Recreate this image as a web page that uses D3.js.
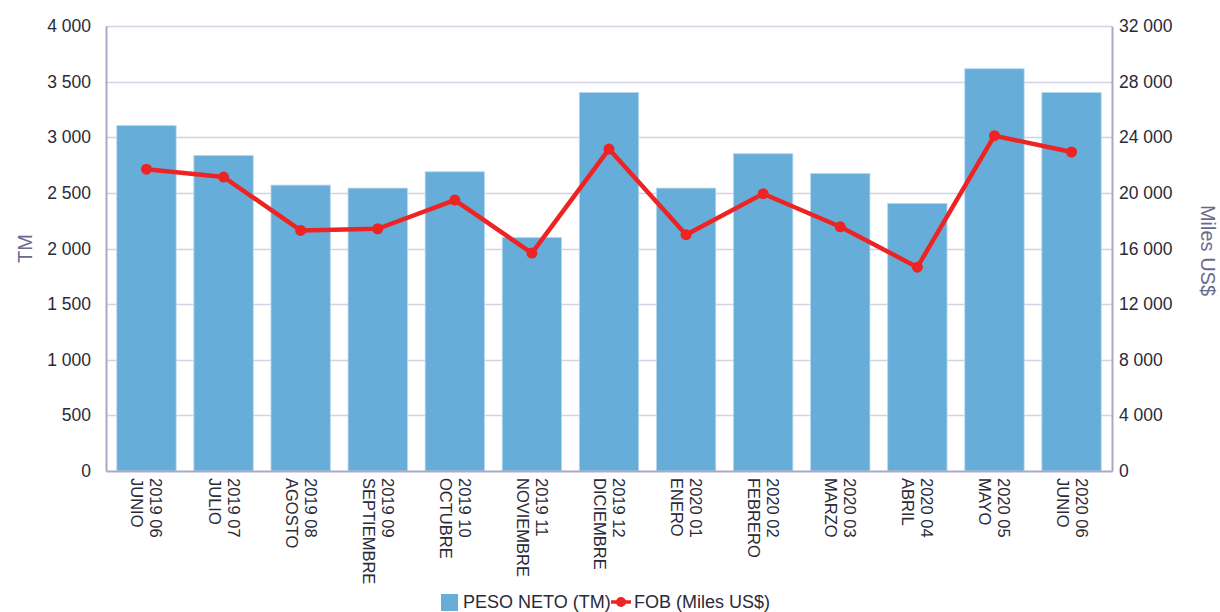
<!DOCTYPE html>
<html>
<head>
<meta charset="utf-8">
<script src="https://cdn.jsdelivr.net/npm/d3@7"></script>
<style>
  html, body { margin: 0; padding: 0; background: #fff; }
  svg { display: block; font-family: "Liberation Sans", Arial, sans-serif; }
</style>
</head>
<body>
<svg id="chart" width="1220" height="612"></svg>
<script>
const years = ["2019 06","2019 07","2019 08","2019 09","2019 10","2019 11","2019 12","2020 01","2020 02","2020 03","2020 04","2020 05","2020 06"];
const months = ["JUNIO","JULIO","AGOSTO","SEPTIEMBRE","OCTUBRE","NOVIEMBRE","DICIEMBRE","ENERO","FEBRERO","MARZO","ABRIL","MAYO","JUNIO"];
const pesoNeto = [3105, 2836, 2570, 2543, 2690, 2099, 3403, 2543, 2852, 2674, 2405, 3616, 3403];
const fob = [21700, 21140, 17300, 17420, 19480, 15670, 23150, 16990, 19940, 17560, 14660, 24110, 22940];
const leftTicks = [0, 500, 1000, 1500, 2000, 2500, 3000, 3500, 4000];
const rightTicks = [0, 4000, 8000, 12000, 16000, 20000, 24000, 28000, 32000];
const seriesNames = ["PESO NETO (TM)", "FOB (Miles US$)"];
const axisTitles = ["TM", "Miles US$"];

const svg = d3.select("#chart");
const L = 106, R = 1112, T = 26, B = 471;
const keys = years.map((y, i) => i);

const x = d3.scaleBand().domain(keys).range([L, R]).paddingInner(0.23).paddingOuter(0.14);
const yL = d3.scaleLinear().domain([0, 4000]).range([B, T]);
const yR = d3.scaleLinear().domain([0, 32000]).range([B, T]);

const fmt = v => d3.format(",")(v).replace(/,/g, " ");
const gridColor = "#d3d3e3";
const axisColor = "#a9a9c6";
const textColor = "#2a2a38";

// gridlines
svg.append("g").selectAll("line").data(leftTicks.filter(d => d > 0)).join("line")
  .attr("x1", L).attr("x2", R)
  .attr("y1", d => Math.round(yL(d)) + 0.5).attr("y2", d => Math.round(yL(d)) + 0.5)
  .attr("stroke", gridColor).attr("stroke-width", 1.5);

// bars
svg.append("g").selectAll("rect").data(pesoNeto).join("rect")
  .attr("x", (d, i) => x(i)).attr("width", x.bandwidth())
  .attr("y", d => yL(d)).attr("height", d => yL(0) - yL(d))
  .attr("fill", "#66aed9").attr("stroke", "#b8d8ee").attr("stroke-width", 0.8);

// left axis
const gL = svg.append("g").attr("transform", `translate(${L},0)`)
  .call(d3.axisLeft(yL).tickValues(leftTicks).tickFormat(fmt).tickSize(0).tickPadding(15));
gL.select(".domain").attr("stroke", axisColor).attr("stroke-width", 2);
gL.selectAll("text").attr("font-size", 17.5).attr("fill", textColor).attr("font-family", "Liberation Sans, Arial, sans-serif");

// right axis
const gR = svg.append("g").attr("transform", `translate(${R},0)`)
  .call(d3.axisRight(yR).tickValues(rightTicks).tickFormat(fmt).tickSize(0).tickPadding(7));
gR.select(".domain").attr("stroke", axisColor).attr("stroke-width", 2);
gR.selectAll("text").attr("font-size", 17.5).attr("fill", textColor).attr("font-family", "Liberation Sans, Arial, sans-serif");

// bottom axis
const gB = svg.append("g").attr("transform", `translate(0,${B})`)
  .call(d3.axisBottom(x).tickSize(0).tickFormat(""));
gB.select(".domain").attr("stroke", axisColor).attr("stroke-width", 2);
gB.selectAll(".tick").each(function(i) {
  const t = d3.select(this).select("text")
    .attr("transform", "rotate(90)")
    .attr("x", 7).attr("y", 0).attr("dy", null)
    .attr("text-anchor", "start")
    .attr("font-size", 16.5).attr("fill", textColor)
    .attr("font-family", "Liberation Sans, Arial, sans-serif");
  t.append("tspan").attr("x", 7).attr("y", -4).text(years[i]);
  t.append("tspan").attr("x", 7).attr("y", 15).text(months[i]);
});

// line
const line = d3.line().x((d, i) => x(i) + x.bandwidth() / 2).y(d => yR(d));
svg.append("path").datum(fob).attr("d", line)
  .attr("fill", "none").attr("stroke", "#ee2424").attr("stroke-width", 4.5).attr("stroke-linejoin", "round");
svg.append("g").selectAll("circle").data(fob).join("circle")
  .attr("cx", (d, i) => x(i) + x.bandwidth() / 2).attr("cy", d => yR(d))
  .attr("r", 5.5).attr("fill", "#ee2424");

// axis titles
svg.append("text").attr("transform", `translate(32,${(T + B) / 2}) rotate(-90)`)
  .attr("text-anchor", "middle").attr("font-size", 20).attr("fill", "#6a6a8e").text(axisTitles[0]);
svg.append("text").attr("transform", `translate(1201,${(T + B) / 2 + 2}) rotate(90)`)
  .attr("text-anchor", "middle").attr("font-size", 20).attr("fill", "#6a6a8e").text(axisTitles[1]);

// legend
const lg = svg.append("g");
lg.append("rect").attr("x", 441).attr("y", 594).attr("width", 17).attr("height", 17).attr("fill", "#66aed9");
lg.append("text").attr("x", 463).attr("y", 608).attr("font-size", 18).attr("fill", textColor).text(seriesNames[0]);
lg.append("line").attr("x1", 611).attr("x2", 631).attr("y1", 602).attr("y2", 602)
  .attr("stroke", "#ee2424").attr("stroke-width", 3.5);
lg.append("circle").attr("cx", 621).attr("cy", 602).attr("r", 5).attr("fill", "#ee2424");
lg.append("text").attr("x", 634).attr("y", 608).attr("font-size", 18).attr("fill", textColor).text(seriesNames[1]);
</script>
</body>
</html>
